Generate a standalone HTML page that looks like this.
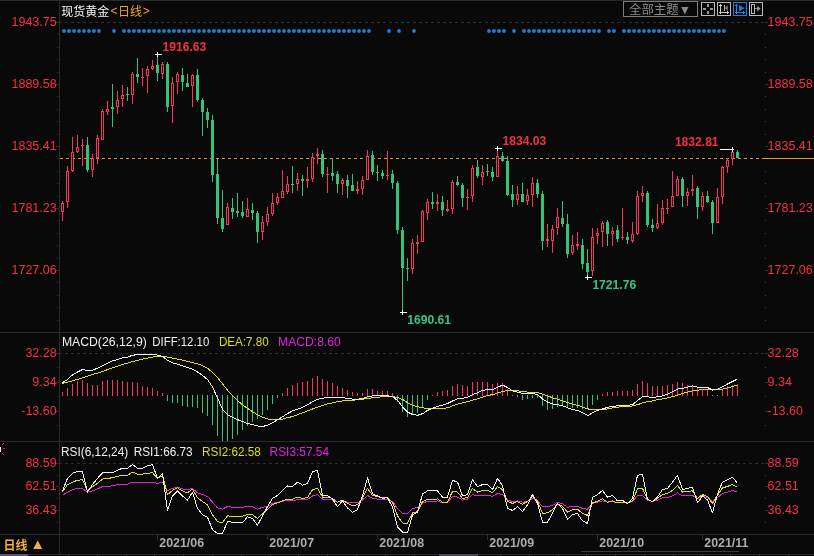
<!DOCTYPE html>
<html lang="zh-CN">
<head>
<meta charset="utf-8">
<title>现货黄金 日线</title>
<style>
html,body{margin:0;padding:0;background:#090909;}
body{width:814px;height:556px;overflow:hidden;position:relative;font-family:"Liberation Sans", "Noto Sans CJK SC", sans-serif;}
</style>
</head>
<body>
<svg width="814" height="556" viewBox="0 0 814 556" style="display:block;position:absolute;left:0;top:0">
<rect x="0" y="0" width="814" height="556" fill="#090909"/>
<g shape-rendering="crispEdges" fill="#2b2b2b">
<rect x="0" y="0" width="814" height="1"/>
<rect x="59" y="0" width="1" height="555"/>
<rect x="0" y="332" width="814" height="1"/>
<rect x="0" y="441" width="814" height="1"/>
<rect x="0" y="534" width="814" height="1"/>
<rect x="0" y="554" width="814" height="1"/>
<rect x="157" y="534" width="1" height="6"/>
<rect x="267" y="534" width="1" height="6"/>
<rect x="377" y="534" width="1" height="6"/>
<rect x="487" y="534" width="1" height="6"/>
<rect x="597" y="534" width="1" height="6"/>
<rect x="702" y="534" width="1" height="6"/>
<rect x="68" y="555" width="1" height="1"/>
<rect x="97" y="555" width="1" height="1"/>
<rect x="126" y="555" width="1" height="1"/>
<rect x="154" y="555" width="1" height="1"/>
<rect x="183" y="555" width="1" height="1"/>
<rect x="212" y="555" width="1" height="1"/>
<rect x="241" y="555" width="1" height="1"/>
<rect x="270" y="555" width="1" height="1"/>
<rect x="298" y="555" width="1" height="1"/>
<rect x="327" y="555" width="1" height="1"/>
<rect x="356" y="555" width="1" height="1"/>
<rect x="385" y="555" width="1" height="1"/>
<rect x="414" y="555" width="1" height="1"/>
<rect x="442" y="555" width="1" height="1"/>
<rect x="471" y="555" width="1" height="1"/>
<rect x="500" y="555" width="1" height="1"/>
<rect x="529" y="555" width="1" height="1"/>
<rect x="558" y="555" width="1" height="1"/>
<rect x="586" y="555" width="1" height="1"/>
<rect x="615" y="555" width="1" height="1"/>
<rect x="644" y="555" width="1" height="1"/>
<rect x="673" y="555" width="1" height="1"/>
<rect x="702" y="555" width="1" height="1"/>
<rect x="730" y="555" width="1" height="1"/>
<rect x="759" y="555" width="1" height="1"/>
<rect x="788" y="555" width="1" height="1"/>
</g>
<g shape-rendering="crispEdges" fill="#212121">
<rect x="57" y="22" width="2" height="1"/>
<rect x="57" y="34" width="2" height="1"/>
<rect x="57" y="47" width="2" height="1"/>
<rect x="57" y="59" width="2" height="1"/>
<rect x="57" y="72" width="2" height="1"/>
<rect x="57" y="84" width="2" height="1"/>
<rect x="57" y="96" width="2" height="1"/>
<rect x="57" y="109" width="2" height="1"/>
<rect x="57" y="121" width="2" height="1"/>
<rect x="57" y="134" width="2" height="1"/>
<rect x="57" y="146" width="2" height="1"/>
<rect x="57" y="158" width="2" height="1"/>
<rect x="57" y="171" width="2" height="1"/>
<rect x="57" y="183" width="2" height="1"/>
<rect x="57" y="196" width="2" height="1"/>
<rect x="57" y="208" width="2" height="1"/>
<rect x="57" y="220" width="2" height="1"/>
<rect x="57" y="233" width="2" height="1"/>
<rect x="57" y="245" width="2" height="1"/>
<rect x="57" y="258" width="2" height="1"/>
<rect x="57" y="270" width="2" height="1"/>
<rect x="57" y="282" width="2" height="1"/>
<rect x="57" y="295" width="2" height="1"/>
<rect x="57" y="307" width="2" height="1"/>
<rect x="57" y="320" width="2" height="1"/>
<rect x="57" y="353" width="2" height="1"/>
<rect x="57" y="367" width="2" height="1"/>
<rect x="57" y="382" width="2" height="1"/>
<rect x="57" y="396" width="2" height="1"/>
<rect x="57" y="411" width="2" height="1"/>
<rect x="57" y="425" width="2" height="1"/>
<rect x="57" y="463" width="2" height="1"/>
<rect x="57" y="475" width="2" height="1"/>
<rect x="57" y="486" width="2" height="1"/>
<rect x="57" y="498" width="2" height="1"/>
<rect x="57" y="510" width="2" height="1"/>
<rect x="57" y="522" width="2" height="1"/>
</g>
<g shape-rendering="crispEdges" fill="#3a3a3a">
<rect x="765" y="22" width="1" height="1"/>
<rect x="765" y="34" width="1" height="1"/>
<rect x="765" y="47" width="1" height="1"/>
<rect x="765" y="59" width="1" height="1"/>
<rect x="765" y="72" width="1" height="1"/>
<rect x="765" y="84" width="1" height="1"/>
<rect x="765" y="96" width="1" height="1"/>
<rect x="765" y="109" width="1" height="1"/>
<rect x="765" y="121" width="1" height="1"/>
<rect x="765" y="134" width="1" height="1"/>
<rect x="765" y="146" width="1" height="1"/>
<rect x="765" y="158" width="1" height="1"/>
<rect x="765" y="171" width="1" height="1"/>
<rect x="765" y="183" width="1" height="1"/>
<rect x="765" y="196" width="1" height="1"/>
<rect x="765" y="208" width="1" height="1"/>
<rect x="765" y="220" width="1" height="1"/>
<rect x="765" y="233" width="1" height="1"/>
<rect x="765" y="245" width="1" height="1"/>
<rect x="765" y="258" width="1" height="1"/>
<rect x="765" y="270" width="1" height="1"/>
<rect x="765" y="282" width="1" height="1"/>
<rect x="765" y="295" width="1" height="1"/>
<rect x="765" y="307" width="1" height="1"/>
<rect x="765" y="320" width="1" height="1"/>
<rect x="765" y="353" width="1" height="1"/>
<rect x="765" y="367" width="1" height="1"/>
<rect x="765" y="382" width="1" height="1"/>
<rect x="765" y="396" width="1" height="1"/>
<rect x="765" y="411" width="1" height="1"/>
<rect x="765" y="425" width="1" height="1"/>
<rect x="765" y="463" width="1" height="1"/>
<rect x="765" y="475" width="1" height="1"/>
<rect x="765" y="486" width="1" height="1"/>
<rect x="765" y="498" width="1" height="1"/>
<rect x="765" y="510" width="1" height="1"/>
<rect x="765" y="522" width="1" height="1"/>
</g>
<g shape-rendering="crispEdges" fill="#303030">
<rect x="56" y="22" width="3" height="1"/>
<rect x="765" y="22" width="3" height="1"/>
<rect x="56" y="84" width="3" height="1"/>
<rect x="765" y="84" width="3" height="1"/>
<rect x="56" y="146" width="3" height="1"/>
<rect x="765" y="146" width="3" height="1"/>
<rect x="56" y="208" width="3" height="1"/>
<rect x="765" y="208" width="3" height="1"/>
<rect x="56" y="270" width="3" height="1"/>
<rect x="765" y="270" width="3" height="1"/>
<rect x="56" y="353" width="3" height="1"/>
<rect x="765" y="353" width="3" height="1"/>
<rect x="56" y="382" width="3" height="1"/>
<rect x="765" y="382" width="3" height="1"/>
<rect x="56" y="411" width="3" height="1"/>
<rect x="765" y="411" width="3" height="1"/>
<rect x="56" y="463" width="3" height="1"/>
<rect x="765" y="463" width="3" height="1"/>
<rect x="56" y="486" width="3" height="1"/>
<rect x="765" y="486" width="3" height="1"/>
<rect x="56" y="510" width="3" height="1"/>
<rect x="765" y="510" width="3" height="1"/>
</g>
<g shape-rendering="crispEdges" stroke="#2d2d2d" stroke-width="1" stroke-dasharray="3 3" fill="none">
<path d="M59 22.5H764"/>
<path d="M59 353.5H764"/>
<path d="M59 463.5H764"/>
</g>
<rect x="0" y="554" width="28" height="2" fill="#55556a" shape-rendering="crispEdges"/>
<rect x="439" y="554" width="39" height="2" fill="#4a4a52" shape-rendering="crispEdges"/>
<rect x="581" y="551" width="158" height="1" fill="#3c3c3c" shape-rendering="crispEdges"/>
<g fill="#1c80d8">
<circle cx="64" cy="31" r="1.9"/>
<circle cx="69" cy="31" r="1.9"/>
<circle cx="74" cy="31" r="1.9"/>
<circle cx="79" cy="31" r="1.9"/>
<circle cx="84" cy="31" r="1.9"/>
<circle cx="89" cy="31" r="1.9"/>
<circle cx="94" cy="31" r="1.9"/>
<circle cx="99" cy="31" r="1.9"/>
<circle cx="114" cy="31" r="1.9"/>
<circle cx="124" cy="31" r="1.9"/>
<circle cx="129" cy="31" r="1.9"/>
<circle cx="134" cy="31" r="1.9"/>
<circle cx="139" cy="31" r="1.9"/>
<circle cx="144" cy="31" r="1.9"/>
<circle cx="149" cy="31" r="1.9"/>
<circle cx="154" cy="31" r="1.9"/>
<circle cx="159" cy="31" r="1.9"/>
<circle cx="164" cy="31" r="1.9"/>
<circle cx="169" cy="31" r="1.9"/>
<circle cx="174" cy="31" r="1.9"/>
<circle cx="179" cy="31" r="1.9"/>
<circle cx="184" cy="31" r="1.9"/>
<circle cx="189" cy="31" r="1.9"/>
<circle cx="194" cy="31" r="1.9"/>
<circle cx="199" cy="31" r="1.9"/>
<circle cx="204" cy="31" r="1.9"/>
<circle cx="209" cy="31" r="1.9"/>
<circle cx="214" cy="31" r="1.9"/>
<circle cx="219" cy="31" r="1.9"/>
<circle cx="224" cy="31" r="1.9"/>
<circle cx="229" cy="31" r="1.9"/>
<circle cx="234" cy="31" r="1.9"/>
<circle cx="239" cy="31" r="1.9"/>
<circle cx="244" cy="31" r="1.9"/>
<circle cx="249" cy="31" r="1.9"/>
<circle cx="254" cy="31" r="1.9"/>
<circle cx="259" cy="31" r="1.9"/>
<circle cx="264" cy="31" r="1.9"/>
<circle cx="269" cy="31" r="1.9"/>
<circle cx="274" cy="31" r="1.9"/>
<circle cx="279" cy="31" r="1.9"/>
<circle cx="284" cy="31" r="1.9"/>
<circle cx="289" cy="31" r="1.9"/>
<circle cx="294" cy="31" r="1.9"/>
<circle cx="299" cy="31" r="1.9"/>
<circle cx="304" cy="31" r="1.9"/>
<circle cx="309" cy="31" r="1.9"/>
<circle cx="314" cy="31" r="1.9"/>
<circle cx="319" cy="31" r="1.9"/>
<circle cx="324" cy="31" r="1.9"/>
<circle cx="329" cy="31" r="1.9"/>
<circle cx="334" cy="31" r="1.9"/>
<circle cx="339" cy="31" r="1.9"/>
<circle cx="344" cy="31" r="1.9"/>
<circle cx="349" cy="31" r="1.9"/>
<circle cx="354" cy="31" r="1.9"/>
<circle cx="359" cy="31" r="1.9"/>
<circle cx="364" cy="31" r="1.9"/>
<circle cx="369" cy="31" r="1.9"/>
<circle cx="389" cy="31" r="1.9"/>
<circle cx="399" cy="31" r="1.9"/>
<circle cx="414" cy="31" r="1.9"/>
<circle cx="489" cy="31" r="1.9"/>
<circle cx="494" cy="31" r="1.9"/>
<circle cx="499" cy="31" r="1.9"/>
<circle cx="504" cy="31" r="1.9"/>
<circle cx="514" cy="31" r="1.9"/>
<circle cx="524" cy="31" r="1.9"/>
<circle cx="529" cy="31" r="1.9"/>
<circle cx="534" cy="31" r="1.9"/>
<circle cx="539" cy="31" r="1.9"/>
<circle cx="544" cy="31" r="1.9"/>
<circle cx="549" cy="31" r="1.9"/>
<circle cx="554" cy="31" r="1.9"/>
<circle cx="559" cy="31" r="1.9"/>
<circle cx="564" cy="31" r="1.9"/>
<circle cx="569" cy="31" r="1.9"/>
<circle cx="574" cy="31" r="1.9"/>
<circle cx="579" cy="31" r="1.9"/>
<circle cx="584" cy="31" r="1.9"/>
<circle cx="589" cy="31" r="1.9"/>
<circle cx="594" cy="31" r="1.9"/>
<circle cx="599" cy="31" r="1.9"/>
<circle cx="609" cy="31" r="1.9"/>
<circle cx="614" cy="31" r="1.9"/>
<circle cx="624" cy="31" r="1.9"/>
<circle cx="629" cy="31" r="1.9"/>
<circle cx="634" cy="31" r="1.9"/>
<circle cx="639" cy="31" r="1.9"/>
<circle cx="644" cy="31" r="1.9"/>
<circle cx="649" cy="31" r="1.9"/>
<circle cx="654" cy="31" r="1.9"/>
<circle cx="659" cy="31" r="1.9"/>
<circle cx="664" cy="31" r="1.9"/>
<circle cx="669" cy="31" r="1.9"/>
<circle cx="674" cy="31" r="1.9"/>
<circle cx="679" cy="31" r="1.9"/>
<circle cx="684" cy="31" r="1.9"/>
<circle cx="689" cy="31" r="1.9"/>
<circle cx="694" cy="31" r="1.9"/>
<circle cx="699" cy="31" r="1.9"/>
<circle cx="704" cy="31" r="1.9"/>
<circle cx="709" cy="31" r="1.9"/>
<circle cx="714" cy="31" r="1.9"/>
<circle cx="719" cy="31" r="1.9"/>
<circle cx="724" cy="31" r="1.9"/>
</g>
<g shape-rendering="crispEdges">
<path d="M60 158.5H759" stroke="#e8932e" stroke-width="1" stroke-dasharray="3 3" fill="none"/>
<rect x="762" y="158" width="52" height="1" fill="#e8932e"/>
</g>
<g shape-rendering="crispEdges">
<rect x="62" y="201" width="1" height="2" fill="#f6365b"/>
<rect x="62" y="212" width="1" height="9" fill="#f6365b"/>
<rect x="61" y="203" width="3" height="9" fill="#f6365b"/>
<rect x="62" y="204" width="1" height="7" fill="#090909"/>
<rect x="67" y="166" width="1" height="5" fill="#f6365b"/>
<rect x="67" y="202" width="1" height="6" fill="#f6365b"/>
<rect x="66" y="171" width="3" height="31" fill="#f6365b"/>
<rect x="67" y="172" width="1" height="29" fill="#090909"/>
<rect x="72" y="137" width="1" height="15" fill="#f6365b"/>
<rect x="72" y="171" width="1" height="1" fill="#f6365b"/>
<rect x="71" y="152" width="3" height="19" fill="#f6365b"/>
<rect x="72" y="153" width="1" height="17" fill="#090909"/>
<rect x="77" y="135" width="1" height="12" fill="#f6365b"/>
<rect x="77" y="152" width="1" height="1" fill="#f6365b"/>
<rect x="76" y="147" width="3" height="5" fill="#f6365b"/>
<rect x="77" y="148" width="1" height="3" fill="#090909"/>
<rect x="82" y="139" width="1" height="6" fill="#f6365b"/>
<rect x="82" y="146" width="1" height="20" fill="#f6365b"/>
<rect x="81" y="145" width="3" height="1" fill="#f6365b"/>
<rect x="87" y="137" width="1" height="35" fill="#32c47a"/>
<rect x="86" y="145" width="3" height="25" fill="#32c47a"/>
<rect x="92" y="154" width="1" height="4" fill="#f6365b"/>
<rect x="92" y="170" width="1" height="7" fill="#f6365b"/>
<rect x="91" y="158" width="3" height="12" fill="#f6365b"/>
<rect x="92" y="159" width="1" height="10" fill="#090909"/>
<rect x="97" y="135" width="1" height="3" fill="#f6365b"/>
<rect x="97" y="158" width="1" height="6" fill="#f6365b"/>
<rect x="96" y="138" width="3" height="20" fill="#f6365b"/>
<rect x="97" y="139" width="1" height="18" fill="#090909"/>
<rect x="102" y="109" width="1" height="2" fill="#f6365b"/>
<rect x="101" y="111" width="3" height="29" fill="#f6365b"/>
<rect x="102" y="112" width="1" height="27" fill="#090909"/>
<rect x="107" y="101" width="1" height="8" fill="#f6365b"/>
<rect x="107" y="112" width="1" height="3" fill="#f6365b"/>
<rect x="106" y="109" width="3" height="3" fill="#f6365b"/>
<rect x="107" y="110" width="1" height="1" fill="#090909"/>
<rect x="112" y="84" width="1" height="43" fill="#32c47a"/>
<rect x="111" y="107" width="3" height="2" fill="#32c47a"/>
<rect x="117" y="91" width="1" height="9" fill="#f6365b"/>
<rect x="117" y="107" width="1" height="7" fill="#f6365b"/>
<rect x="116" y="100" width="3" height="7" fill="#f6365b"/>
<rect x="117" y="101" width="1" height="5" fill="#090909"/>
<rect x="122" y="85" width="1" height="10" fill="#f6365b"/>
<rect x="122" y="99" width="1" height="8" fill="#f6365b"/>
<rect x="121" y="95" width="3" height="4" fill="#f6365b"/>
<rect x="122" y="96" width="1" height="2" fill="#090909"/>
<rect x="127" y="87" width="1" height="14" fill="#32c47a"/>
<rect x="126" y="94" width="3" height="1" fill="#32c47a"/>
<rect x="132" y="72" width="1" height="2" fill="#f6365b"/>
<rect x="132" y="95" width="1" height="9" fill="#f6365b"/>
<rect x="131" y="74" width="3" height="21" fill="#f6365b"/>
<rect x="132" y="75" width="1" height="19" fill="#090909"/>
<rect x="137" y="58" width="1" height="25" fill="#32c47a"/>
<rect x="136" y="74" width="3" height="3" fill="#32c47a"/>
<rect x="142" y="68" width="1" height="9" fill="#f6365b"/>
<rect x="142" y="78" width="1" height="8" fill="#f6365b"/>
<rect x="141" y="77" width="3" height="1" fill="#f6365b"/>
<rect x="147" y="66" width="1" height="3" fill="#f6365b"/>
<rect x="147" y="76" width="1" height="17" fill="#f6365b"/>
<rect x="146" y="69" width="3" height="7" fill="#f6365b"/>
<rect x="147" y="70" width="1" height="5" fill="#090909"/>
<rect x="152" y="60" width="1" height="6" fill="#f6365b"/>
<rect x="152" y="69" width="1" height="1" fill="#f6365b"/>
<rect x="151" y="66" width="3" height="3" fill="#f6365b"/>
<rect x="152" y="67" width="1" height="1" fill="#090909"/>
<rect x="157" y="54" width="1" height="27" fill="#32c47a"/>
<rect x="156" y="65" width="3" height="8" fill="#32c47a"/>
<rect x="162" y="62" width="1" height="2" fill="#f6365b"/>
<rect x="162" y="74" width="1" height="5" fill="#f6365b"/>
<rect x="161" y="64" width="3" height="10" fill="#f6365b"/>
<rect x="162" y="65" width="1" height="8" fill="#090909"/>
<rect x="167" y="62" width="1" height="50" fill="#32c47a"/>
<rect x="166" y="64" width="3" height="43" fill="#32c47a"/>
<rect x="172" y="77" width="1" height="6" fill="#f6365b"/>
<rect x="172" y="106" width="1" height="17" fill="#f6365b"/>
<rect x="171" y="83" width="3" height="23" fill="#f6365b"/>
<rect x="172" y="84" width="1" height="21" fill="#090909"/>
<rect x="177" y="72" width="1" height="2" fill="#f6365b"/>
<rect x="177" y="82" width="1" height="12" fill="#f6365b"/>
<rect x="176" y="74" width="3" height="8" fill="#f6365b"/>
<rect x="177" y="75" width="1" height="6" fill="#090909"/>
<rect x="182" y="68" width="1" height="23" fill="#32c47a"/>
<rect x="181" y="75" width="3" height="7" fill="#32c47a"/>
<rect x="187" y="74" width="1" height="13" fill="#32c47a"/>
<rect x="186" y="83" width="3" height="4" fill="#32c47a"/>
<rect x="192" y="74" width="1" height="1" fill="#f6365b"/>
<rect x="192" y="86" width="1" height="21" fill="#f6365b"/>
<rect x="191" y="75" width="3" height="11" fill="#f6365b"/>
<rect x="192" y="76" width="1" height="9" fill="#090909"/>
<rect x="197" y="69" width="1" height="33" fill="#32c47a"/>
<rect x="196" y="75" width="3" height="25" fill="#32c47a"/>
<rect x="202" y="98" width="1" height="38" fill="#32c47a"/>
<rect x="201" y="100" width="3" height="12" fill="#32c47a"/>
<rect x="207" y="108" width="1" height="20" fill="#32c47a"/>
<rect x="206" y="112" width="3" height="8" fill="#32c47a"/>
<rect x="212" y="115" width="1" height="67" fill="#32c47a"/>
<rect x="211" y="120" width="3" height="55" fill="#32c47a"/>
<rect x="217" y="159" width="1" height="65" fill="#32c47a"/>
<rect x="216" y="174" width="3" height="44" fill="#32c47a"/>
<rect x="222" y="190" width="1" height="42" fill="#32c47a"/>
<rect x="221" y="218" width="3" height="11" fill="#32c47a"/>
<rect x="227" y="203" width="1" height="4" fill="#f6365b"/>
<rect x="226" y="207" width="3" height="18" fill="#f6365b"/>
<rect x="227" y="208" width="1" height="16" fill="#090909"/>
<rect x="232" y="198" width="1" height="21" fill="#32c47a"/>
<rect x="231" y="208" width="3" height="4" fill="#32c47a"/>
<rect x="237" y="193" width="1" height="24" fill="#32c47a"/>
<rect x="236" y="211" width="3" height="2" fill="#32c47a"/>
<rect x="242" y="201" width="1" height="17" fill="#32c47a"/>
<rect x="241" y="212" width="3" height="4" fill="#32c47a"/>
<rect x="247" y="198" width="1" height="11" fill="#f6365b"/>
<rect x="246" y="209" width="3" height="8" fill="#f6365b"/>
<rect x="247" y="210" width="1" height="6" fill="#090909"/>
<rect x="252" y="203" width="1" height="17" fill="#32c47a"/>
<rect x="251" y="210" width="3" height="3" fill="#32c47a"/>
<rect x="257" y="211" width="1" height="32" fill="#32c47a"/>
<rect x="256" y="213" width="3" height="19" fill="#32c47a"/>
<rect x="262" y="216" width="1" height="6" fill="#f6365b"/>
<rect x="262" y="232" width="1" height="8" fill="#f6365b"/>
<rect x="261" y="222" width="3" height="10" fill="#f6365b"/>
<rect x="262" y="223" width="1" height="8" fill="#090909"/>
<rect x="267" y="207" width="1" height="7" fill="#f6365b"/>
<rect x="267" y="222" width="1" height="4" fill="#f6365b"/>
<rect x="266" y="214" width="3" height="8" fill="#f6365b"/>
<rect x="267" y="215" width="1" height="6" fill="#090909"/>
<rect x="272" y="193" width="1" height="10" fill="#f6365b"/>
<rect x="272" y="214" width="1" height="2" fill="#f6365b"/>
<rect x="271" y="203" width="3" height="11" fill="#f6365b"/>
<rect x="272" y="204" width="1" height="9" fill="#090909"/>
<rect x="277" y="193" width="1" height="4" fill="#f6365b"/>
<rect x="277" y="203" width="1" height="2" fill="#f6365b"/>
<rect x="276" y="197" width="3" height="6" fill="#f6365b"/>
<rect x="277" y="198" width="1" height="4" fill="#090909"/>
<rect x="282" y="170" width="1" height="21" fill="#f6365b"/>
<rect x="281" y="191" width="3" height="7" fill="#f6365b"/>
<rect x="282" y="192" width="1" height="5" fill="#090909"/>
<rect x="287" y="176" width="1" height="8" fill="#f6365b"/>
<rect x="287" y="192" width="1" height="2" fill="#f6365b"/>
<rect x="286" y="184" width="3" height="8" fill="#f6365b"/>
<rect x="287" y="185" width="1" height="6" fill="#090909"/>
<rect x="292" y="166" width="1" height="27" fill="#32c47a"/>
<rect x="291" y="184" width="3" height="1" fill="#32c47a"/>
<rect x="297" y="173" width="1" height="6" fill="#f6365b"/>
<rect x="297" y="184" width="1" height="7" fill="#f6365b"/>
<rect x="296" y="179" width="3" height="5" fill="#f6365b"/>
<rect x="297" y="180" width="1" height="3" fill="#090909"/>
<rect x="302" y="175" width="1" height="21" fill="#32c47a"/>
<rect x="301" y="179" width="3" height="2" fill="#32c47a"/>
<rect x="307" y="167" width="1" height="12" fill="#f6365b"/>
<rect x="307" y="181" width="1" height="7" fill="#f6365b"/>
<rect x="306" y="179" width="3" height="2" fill="#f6365b"/>
<rect x="312" y="153" width="1" height="4" fill="#f6365b"/>
<rect x="312" y="179" width="1" height="3" fill="#f6365b"/>
<rect x="311" y="157" width="3" height="22" fill="#f6365b"/>
<rect x="312" y="158" width="1" height="20" fill="#090909"/>
<rect x="317" y="148" width="1" height="6" fill="#f6365b"/>
<rect x="317" y="156" width="1" height="8" fill="#f6365b"/>
<rect x="316" y="154" width="3" height="2" fill="#f6365b"/>
<rect x="322" y="150" width="1" height="27" fill="#32c47a"/>
<rect x="321" y="154" width="3" height="20" fill="#32c47a"/>
<rect x="327" y="167" width="1" height="7" fill="#f6365b"/>
<rect x="327" y="175" width="1" height="18" fill="#f6365b"/>
<rect x="326" y="174" width="3" height="1" fill="#f6365b"/>
<rect x="332" y="158" width="1" height="23" fill="#32c47a"/>
<rect x="331" y="173" width="3" height="3" fill="#32c47a"/>
<rect x="337" y="171" width="1" height="22" fill="#32c47a"/>
<rect x="336" y="174" width="3" height="10" fill="#32c47a"/>
<rect x="342" y="178" width="1" height="2" fill="#f6365b"/>
<rect x="342" y="184" width="1" height="11" fill="#f6365b"/>
<rect x="341" y="180" width="3" height="4" fill="#f6365b"/>
<rect x="342" y="181" width="1" height="2" fill="#090909"/>
<rect x="347" y="175" width="1" height="23" fill="#32c47a"/>
<rect x="346" y="180" width="3" height="6" fill="#32c47a"/>
<rect x="352" y="174" width="1" height="17" fill="#32c47a"/>
<rect x="351" y="185" width="3" height="6" fill="#32c47a"/>
<rect x="357" y="181" width="1" height="8" fill="#f6365b"/>
<rect x="357" y="191" width="1" height="3" fill="#f6365b"/>
<rect x="356" y="189" width="3" height="2" fill="#f6365b"/>
<rect x="362" y="176" width="1" height="4" fill="#f6365b"/>
<rect x="362" y="189" width="1" height="6" fill="#f6365b"/>
<rect x="361" y="180" width="3" height="9" fill="#f6365b"/>
<rect x="362" y="181" width="1" height="7" fill="#090909"/>
<rect x="367" y="150" width="1" height="6" fill="#f6365b"/>
<rect x="366" y="156" width="3" height="24" fill="#f6365b"/>
<rect x="367" y="157" width="1" height="22" fill="#090909"/>
<rect x="372" y="151" width="1" height="24" fill="#32c47a"/>
<rect x="371" y="155" width="3" height="17" fill="#32c47a"/>
<rect x="377" y="165" width="1" height="16" fill="#32c47a"/>
<rect x="376" y="172" width="3" height="1" fill="#32c47a"/>
<rect x="382" y="170" width="1" height="9" fill="#32c47a"/>
<rect x="381" y="173" width="3" height="3" fill="#32c47a"/>
<rect x="387" y="151" width="1" height="24" fill="#f6365b"/>
<rect x="387" y="176" width="1" height="4" fill="#f6365b"/>
<rect x="386" y="175" width="3" height="1" fill="#f6365b"/>
<rect x="392" y="170" width="1" height="19" fill="#32c47a"/>
<rect x="391" y="174" width="3" height="9" fill="#32c47a"/>
<rect x="397" y="181" width="1" height="53" fill="#32c47a"/>
<rect x="396" y="183" width="3" height="47" fill="#32c47a"/>
<rect x="402" y="227" width="1" height="85" fill="#32c47a"/>
<rect x="401" y="230" width="3" height="38" fill="#32c47a"/>
<rect x="407" y="258" width="1" height="23" fill="#32c47a"/>
<rect x="406" y="268" width="3" height="1" fill="#32c47a"/>
<rect x="412" y="239" width="1" height="4" fill="#f6365b"/>
<rect x="412" y="269" width="1" height="5" fill="#f6365b"/>
<rect x="411" y="243" width="3" height="26" fill="#f6365b"/>
<rect x="412" y="244" width="1" height="24" fill="#090909"/>
<rect x="417" y="235" width="1" height="7" fill="#f6365b"/>
<rect x="417" y="244" width="1" height="10" fill="#f6365b"/>
<rect x="416" y="242" width="3" height="2" fill="#f6365b"/>
<rect x="422" y="210" width="1" height="1" fill="#f6365b"/>
<rect x="421" y="211" width="3" height="31" fill="#f6365b"/>
<rect x="422" y="212" width="1" height="29" fill="#090909"/>
<rect x="427" y="199" width="1" height="3" fill="#f6365b"/>
<rect x="427" y="213" width="1" height="7" fill="#f6365b"/>
<rect x="426" y="202" width="3" height="11" fill="#f6365b"/>
<rect x="427" y="203" width="1" height="9" fill="#090909"/>
<rect x="432" y="192" width="1" height="17" fill="#32c47a"/>
<rect x="431" y="202" width="3" height="2" fill="#32c47a"/>
<rect x="437" y="194" width="1" height="8" fill="#f6365b"/>
<rect x="437" y="204" width="1" height="7" fill="#f6365b"/>
<rect x="436" y="202" width="3" height="2" fill="#f6365b"/>
<rect x="442" y="196" width="1" height="20" fill="#32c47a"/>
<rect x="441" y="202" width="3" height="8" fill="#32c47a"/>
<rect x="447" y="200" width="1" height="9" fill="#f6365b"/>
<rect x="447" y="211" width="1" height="1" fill="#f6365b"/>
<rect x="446" y="209" width="3" height="2" fill="#f6365b"/>
<rect x="452" y="180" width="1" height="2" fill="#f6365b"/>
<rect x="452" y="209" width="1" height="5" fill="#f6365b"/>
<rect x="451" y="182" width="3" height="27" fill="#f6365b"/>
<rect x="452" y="183" width="1" height="25" fill="#090909"/>
<rect x="457" y="176" width="1" height="10" fill="#32c47a"/>
<rect x="456" y="182" width="3" height="3" fill="#32c47a"/>
<rect x="462" y="183" width="1" height="24" fill="#32c47a"/>
<rect x="461" y="185" width="3" height="13" fill="#32c47a"/>
<rect x="467" y="189" width="1" height="8" fill="#f6365b"/>
<rect x="467" y="198" width="1" height="12" fill="#f6365b"/>
<rect x="466" y="197" width="3" height="1" fill="#f6365b"/>
<rect x="472" y="165" width="1" height="3" fill="#f6365b"/>
<rect x="472" y="196" width="1" height="6" fill="#f6365b"/>
<rect x="471" y="168" width="3" height="28" fill="#f6365b"/>
<rect x="472" y="169" width="1" height="26" fill="#090909"/>
<rect x="477" y="160" width="1" height="18" fill="#32c47a"/>
<rect x="476" y="167" width="3" height="9" fill="#32c47a"/>
<rect x="482" y="165" width="1" height="7" fill="#f6365b"/>
<rect x="482" y="177" width="1" height="8" fill="#f6365b"/>
<rect x="481" y="172" width="3" height="5" fill="#f6365b"/>
<rect x="482" y="173" width="1" height="3" fill="#090909"/>
<rect x="487" y="164" width="1" height="12" fill="#32c47a"/>
<rect x="486" y="171" width="3" height="1" fill="#32c47a"/>
<rect x="492" y="167" width="1" height="14" fill="#32c47a"/>
<rect x="491" y="172" width="3" height="5" fill="#32c47a"/>
<rect x="497" y="148" width="1" height="8" fill="#f6365b"/>
<rect x="496" y="156" width="3" height="21" fill="#f6365b"/>
<rect x="497" y="157" width="1" height="19" fill="#090909"/>
<rect x="502" y="152" width="1" height="10" fill="#32c47a"/>
<rect x="501" y="156" width="3" height="5" fill="#32c47a"/>
<rect x="507" y="156" width="1" height="40" fill="#32c47a"/>
<rect x="506" y="161" width="3" height="34" fill="#32c47a"/>
<rect x="512" y="185" width="1" height="22" fill="#32c47a"/>
<rect x="511" y="194" width="3" height="6" fill="#32c47a"/>
<rect x="517" y="186" width="1" height="8" fill="#f6365b"/>
<rect x="517" y="200" width="1" height="5" fill="#f6365b"/>
<rect x="516" y="194" width="3" height="6" fill="#f6365b"/>
<rect x="517" y="195" width="1" height="4" fill="#090909"/>
<rect x="522" y="183" width="1" height="19" fill="#32c47a"/>
<rect x="521" y="194" width="3" height="8" fill="#32c47a"/>
<rect x="527" y="189" width="1" height="6" fill="#f6365b"/>
<rect x="527" y="201" width="1" height="4" fill="#f6365b"/>
<rect x="526" y="195" width="3" height="6" fill="#f6365b"/>
<rect x="527" y="196" width="1" height="4" fill="#090909"/>
<rect x="532" y="177" width="1" height="6" fill="#f6365b"/>
<rect x="532" y="195" width="1" height="12" fill="#f6365b"/>
<rect x="531" y="183" width="3" height="12" fill="#f6365b"/>
<rect x="532" y="184" width="1" height="10" fill="#090909"/>
<rect x="537" y="179" width="1" height="19" fill="#32c47a"/>
<rect x="536" y="183" width="3" height="11" fill="#32c47a"/>
<rect x="542" y="191" width="1" height="59" fill="#32c47a"/>
<rect x="541" y="194" width="3" height="47" fill="#32c47a"/>
<rect x="547" y="224" width="1" height="15" fill="#f6365b"/>
<rect x="547" y="241" width="1" height="6" fill="#f6365b"/>
<rect x="546" y="239" width="3" height="2" fill="#f6365b"/>
<rect x="552" y="225" width="1" height="4" fill="#f6365b"/>
<rect x="552" y="241" width="1" height="12" fill="#f6365b"/>
<rect x="551" y="229" width="3" height="12" fill="#f6365b"/>
<rect x="552" y="230" width="1" height="10" fill="#090909"/>
<rect x="557" y="208" width="1" height="9" fill="#f6365b"/>
<rect x="557" y="228" width="1" height="7" fill="#f6365b"/>
<rect x="556" y="217" width="3" height="11" fill="#f6365b"/>
<rect x="557" y="218" width="1" height="9" fill="#090909"/>
<rect x="562" y="201" width="1" height="26" fill="#32c47a"/>
<rect x="561" y="218" width="3" height="6" fill="#32c47a"/>
<rect x="567" y="214" width="1" height="44" fill="#32c47a"/>
<rect x="566" y="224" width="3" height="30" fill="#32c47a"/>
<rect x="572" y="235" width="1" height="10" fill="#f6365b"/>
<rect x="572" y="253" width="1" height="2" fill="#f6365b"/>
<rect x="571" y="245" width="3" height="8" fill="#f6365b"/>
<rect x="572" y="246" width="1" height="6" fill="#090909"/>
<rect x="577" y="232" width="1" height="12" fill="#f6365b"/>
<rect x="577" y="246" width="1" height="4" fill="#f6365b"/>
<rect x="576" y="244" width="3" height="2" fill="#f6365b"/>
<rect x="582" y="239" width="1" height="30" fill="#32c47a"/>
<rect x="581" y="245" width="3" height="19" fill="#32c47a"/>
<rect x="587" y="249" width="1" height="28" fill="#32c47a"/>
<rect x="586" y="263" width="3" height="9" fill="#32c47a"/>
<rect x="592" y="228" width="1" height="9" fill="#f6365b"/>
<rect x="592" y="271" width="1" height="5" fill="#f6365b"/>
<rect x="591" y="237" width="3" height="34" fill="#f6365b"/>
<rect x="592" y="238" width="1" height="32" fill="#090909"/>
<rect x="597" y="228" width="1" height="5" fill="#f6365b"/>
<rect x="597" y="236" width="1" height="8" fill="#f6365b"/>
<rect x="596" y="233" width="3" height="3" fill="#f6365b"/>
<rect x="597" y="234" width="1" height="1" fill="#090909"/>
<rect x="602" y="221" width="1" height="2" fill="#f6365b"/>
<rect x="602" y="232" width="1" height="15" fill="#f6365b"/>
<rect x="601" y="223" width="3" height="9" fill="#f6365b"/>
<rect x="602" y="224" width="1" height="7" fill="#090909"/>
<rect x="607" y="220" width="1" height="26" fill="#32c47a"/>
<rect x="606" y="222" width="3" height="12" fill="#32c47a"/>
<rect x="612" y="227" width="1" height="4" fill="#f6365b"/>
<rect x="612" y="234" width="1" height="12" fill="#f6365b"/>
<rect x="611" y="231" width="3" height="3" fill="#f6365b"/>
<rect x="612" y="232" width="1" height="1" fill="#090909"/>
<rect x="617" y="225" width="1" height="17" fill="#32c47a"/>
<rect x="616" y="230" width="3" height="9" fill="#32c47a"/>
<rect x="622" y="208" width="1" height="29" fill="#f6365b"/>
<rect x="622" y="238" width="1" height="2" fill="#f6365b"/>
<rect x="621" y="237" width="3" height="1" fill="#f6365b"/>
<rect x="627" y="232" width="1" height="12" fill="#32c47a"/>
<rect x="626" y="237" width="3" height="3" fill="#32c47a"/>
<rect x="632" y="222" width="1" height="12" fill="#f6365b"/>
<rect x="632" y="241" width="1" height="2" fill="#f6365b"/>
<rect x="631" y="234" width="3" height="7" fill="#f6365b"/>
<rect x="632" y="235" width="1" height="5" fill="#090909"/>
<rect x="637" y="191" width="1" height="5" fill="#f6365b"/>
<rect x="637" y="234" width="1" height="1" fill="#f6365b"/>
<rect x="636" y="196" width="3" height="38" fill="#f6365b"/>
<rect x="637" y="197" width="1" height="36" fill="#090909"/>
<rect x="642" y="186" width="1" height="7" fill="#f6365b"/>
<rect x="642" y="196" width="1" height="6" fill="#f6365b"/>
<rect x="641" y="193" width="3" height="3" fill="#f6365b"/>
<rect x="642" y="194" width="1" height="1" fill="#090909"/>
<rect x="647" y="191" width="1" height="36" fill="#32c47a"/>
<rect x="646" y="193" width="3" height="32" fill="#32c47a"/>
<rect x="652" y="219" width="1" height="13" fill="#32c47a"/>
<rect x="651" y="225" width="3" height="3" fill="#32c47a"/>
<rect x="657" y="204" width="1" height="19" fill="#f6365b"/>
<rect x="657" y="228" width="1" height="1" fill="#f6365b"/>
<rect x="656" y="223" width="3" height="5" fill="#f6365b"/>
<rect x="657" y="224" width="1" height="3" fill="#090909"/>
<rect x="662" y="200" width="1" height="8" fill="#f6365b"/>
<rect x="662" y="223" width="1" height="2" fill="#f6365b"/>
<rect x="661" y="208" width="3" height="15" fill="#f6365b"/>
<rect x="662" y="209" width="1" height="13" fill="#090909"/>
<rect x="667" y="199" width="1" height="9" fill="#f6365b"/>
<rect x="667" y="209" width="1" height="5" fill="#f6365b"/>
<rect x="666" y="208" width="3" height="1" fill="#f6365b"/>
<rect x="672" y="171" width="1" height="25" fill="#f6365b"/>
<rect x="671" y="196" width="3" height="11" fill="#f6365b"/>
<rect x="672" y="197" width="1" height="9" fill="#090909"/>
<rect x="677" y="176" width="1" height="3" fill="#f6365b"/>
<rect x="676" y="179" width="3" height="17" fill="#f6365b"/>
<rect x="677" y="180" width="1" height="15" fill="#090909"/>
<rect x="682" y="177" width="1" height="30" fill="#32c47a"/>
<rect x="681" y="179" width="3" height="17" fill="#32c47a"/>
<rect x="687" y="188" width="1" height="4" fill="#f6365b"/>
<rect x="687" y="196" width="1" height="10" fill="#f6365b"/>
<rect x="686" y="192" width="3" height="4" fill="#f6365b"/>
<rect x="687" y="193" width="1" height="2" fill="#090909"/>
<rect x="692" y="175" width="1" height="14" fill="#f6365b"/>
<rect x="692" y="191" width="1" height="5" fill="#f6365b"/>
<rect x="691" y="189" width="3" height="2" fill="#f6365b"/>
<rect x="697" y="186" width="1" height="33" fill="#32c47a"/>
<rect x="696" y="188" width="3" height="19" fill="#32c47a"/>
<rect x="702" y="192" width="1" height="4" fill="#f6365b"/>
<rect x="702" y="207" width="1" height="4" fill="#f6365b"/>
<rect x="701" y="196" width="3" height="11" fill="#f6365b"/>
<rect x="702" y="197" width="1" height="9" fill="#090909"/>
<rect x="707" y="191" width="1" height="12" fill="#32c47a"/>
<rect x="706" y="196" width="3" height="6" fill="#32c47a"/>
<rect x="712" y="200" width="1" height="34" fill="#32c47a"/>
<rect x="711" y="202" width="3" height="21" fill="#32c47a"/>
<rect x="717" y="188" width="1" height="9" fill="#f6365b"/>
<rect x="716" y="197" width="3" height="26" fill="#f6365b"/>
<rect x="717" y="198" width="1" height="24" fill="#090909"/>
<rect x="722" y="166" width="1" height="1" fill="#f6365b"/>
<rect x="722" y="197" width="1" height="7" fill="#f6365b"/>
<rect x="721" y="167" width="3" height="30" fill="#f6365b"/>
<rect x="722" y="168" width="1" height="28" fill="#090909"/>
<rect x="727" y="158" width="1" height="2" fill="#f6365b"/>
<rect x="727" y="167" width="1" height="6" fill="#f6365b"/>
<rect x="726" y="160" width="3" height="7" fill="#f6365b"/>
<rect x="727" y="161" width="1" height="5" fill="#090909"/>
<rect x="732" y="147" width="1" height="5" fill="#f6365b"/>
<rect x="732" y="159" width="1" height="6" fill="#f6365b"/>
<rect x="731" y="152" width="3" height="7" fill="#f6365b"/>
<rect x="732" y="153" width="1" height="5" fill="#090909"/>
<rect x="737" y="150" width="1" height="8" fill="#32c47a"/>
<rect x="736" y="152" width="3" height="6" fill="#32c47a"/>
</g>
<g shape-rendering="crispEdges" fill="#ffffff">
<rect x="155" y="54" width="7" height="1"/><rect x="157" y="52" width="1" height="5"/>
<rect x="495" y="148" width="7" height="1"/><rect x="497" y="146" width="1" height="5"/>
<rect x="720" y="149" width="14" height="1"/><rect x="732" y="147" width="1" height="5"/>
<rect x="400" y="312" width="7" height="1"/><rect x="402" y="310" width="1" height="5"/>
<rect x="585" y="277" width="7" height="1"/><rect x="587" y="275" width="1" height="5"/>
</g>
<g shape-rendering="crispEdges">
<rect x="62" y="392" width="1" height="4" fill="#f6365b"/>
<rect x="67" y="388" width="1" height="8" fill="#f6365b"/>
<rect x="72" y="384" width="1" height="12" fill="#f6365b"/>
<rect x="77" y="381" width="1" height="15" fill="#f6365b"/>
<rect x="82" y="380" width="1" height="16" fill="#f6365b"/>
<rect x="87" y="383" width="1" height="13" fill="#f6365b"/>
<rect x="92" y="385" width="1" height="11" fill="#f6365b"/>
<rect x="97" y="385" width="1" height="11" fill="#f6365b"/>
<rect x="102" y="381" width="1" height="15" fill="#f6365b"/>
<rect x="107" y="380" width="1" height="16" fill="#f6365b"/>
<rect x="112" y="380" width="1" height="16" fill="#f6365b"/>
<rect x="117" y="380" width="1" height="16" fill="#f6365b"/>
<rect x="122" y="381" width="1" height="15" fill="#f6365b"/>
<rect x="127" y="382" width="1" height="14" fill="#f6365b"/>
<rect x="132" y="382" width="1" height="14" fill="#f6365b"/>
<rect x="137" y="383" width="1" height="13" fill="#f6365b"/>
<rect x="142" y="386" width="1" height="10" fill="#f6365b"/>
<rect x="147" y="387" width="1" height="9" fill="#f6365b"/>
<rect x="152" y="388" width="1" height="8" fill="#f6365b"/>
<rect x="157" y="391" width="1" height="5" fill="#f6365b"/>
<rect x="162" y="393" width="1" height="3" fill="#f6365b"/>
<rect x="167" y="395" width="1" height="6" fill="#32c47a"/>
<rect x="172" y="395" width="1" height="8" fill="#32c47a"/>
<rect x="177" y="395" width="1" height="8" fill="#32c47a"/>
<rect x="182" y="395" width="1" height="11" fill="#32c47a"/>
<rect x="187" y="395" width="1" height="12" fill="#32c47a"/>
<rect x="192" y="395" width="1" height="12" fill="#32c47a"/>
<rect x="197" y="395" width="1" height="13" fill="#32c47a"/>
<rect x="202" y="395" width="1" height="18" fill="#32c47a"/>
<rect x="207" y="395" width="1" height="21" fill="#32c47a"/>
<rect x="212" y="395" width="1" height="30" fill="#32c47a"/>
<rect x="217" y="395" width="1" height="41" fill="#32c47a"/>
<rect x="222" y="395" width="1" height="46" fill="#32c47a"/>
<rect x="227" y="395" width="1" height="46" fill="#32c47a"/>
<rect x="232" y="395" width="1" height="44" fill="#32c47a"/>
<rect x="237" y="395" width="1" height="40" fill="#32c47a"/>
<rect x="242" y="395" width="1" height="35" fill="#32c47a"/>
<rect x="247" y="395" width="1" height="31" fill="#32c47a"/>
<rect x="252" y="395" width="1" height="27" fill="#32c47a"/>
<rect x="257" y="395" width="1" height="24" fill="#32c47a"/>
<rect x="262" y="395" width="1" height="20" fill="#32c47a"/>
<rect x="267" y="395" width="1" height="15" fill="#32c47a"/>
<rect x="272" y="395" width="1" height="9" fill="#32c47a"/>
<rect x="277" y="395" width="1" height="3" fill="#32c47a"/>
<rect x="282" y="393" width="1" height="3" fill="#f6365b"/>
<rect x="287" y="388" width="1" height="8" fill="#f6365b"/>
<rect x="292" y="385" width="1" height="11" fill="#f6365b"/>
<rect x="297" y="383" width="1" height="13" fill="#f6365b"/>
<rect x="302" y="382" width="1" height="14" fill="#f6365b"/>
<rect x="307" y="381" width="1" height="15" fill="#f6365b"/>
<rect x="312" y="378" width="1" height="18" fill="#f6365b"/>
<rect x="317" y="376" width="1" height="20" fill="#f6365b"/>
<rect x="322" y="379" width="1" height="17" fill="#f6365b"/>
<rect x="327" y="381" width="1" height="15" fill="#f6365b"/>
<rect x="332" y="383" width="1" height="13" fill="#f6365b"/>
<rect x="337" y="386" width="1" height="10" fill="#f6365b"/>
<rect x="342" y="388" width="1" height="8" fill="#f6365b"/>
<rect x="347" y="390" width="1" height="6" fill="#f6365b"/>
<rect x="352" y="392" width="1" height="4" fill="#f6365b"/>
<rect x="357" y="393" width="1" height="3" fill="#f6365b"/>
<rect x="362" y="393" width="1" height="3" fill="#f6365b"/>
<rect x="367" y="389" width="1" height="7" fill="#f6365b"/>
<rect x="372" y="389" width="1" height="7" fill="#f6365b"/>
<rect x="377" y="391" width="1" height="5" fill="#f6365b"/>
<rect x="382" y="391" width="1" height="5" fill="#f6365b"/>
<rect x="387" y="391" width="1" height="5" fill="#f6365b"/>
<rect x="392" y="393" width="1" height="3" fill="#f6365b"/>
<rect x="397" y="395" width="1" height="7" fill="#32c47a"/>
<rect x="402" y="395" width="1" height="17" fill="#32c47a"/>
<rect x="407" y="395" width="1" height="22" fill="#32c47a"/>
<rect x="412" y="395" width="1" height="19" fill="#32c47a"/>
<rect x="417" y="395" width="1" height="18" fill="#32c47a"/>
<rect x="422" y="395" width="1" height="12" fill="#32c47a"/>
<rect x="427" y="395" width="1" height="5" fill="#32c47a"/>
<rect x="432" y="395" width="1" height="1" fill="#f6365b"/>
<rect x="437" y="392" width="1" height="4" fill="#f6365b"/>
<rect x="442" y="391" width="1" height="5" fill="#f6365b"/>
<rect x="447" y="390" width="1" height="6" fill="#f6365b"/>
<rect x="452" y="386" width="1" height="10" fill="#f6365b"/>
<rect x="457" y="384" width="1" height="12" fill="#f6365b"/>
<rect x="462" y="385" width="1" height="11" fill="#f6365b"/>
<rect x="467" y="386" width="1" height="10" fill="#f6365b"/>
<rect x="472" y="382" width="1" height="14" fill="#f6365b"/>
<rect x="477" y="382" width="1" height="14" fill="#f6365b"/>
<rect x="482" y="382" width="1" height="14" fill="#f6365b"/>
<rect x="487" y="382" width="1" height="14" fill="#f6365b"/>
<rect x="492" y="384" width="1" height="12" fill="#f6365b"/>
<rect x="497" y="383" width="1" height="13" fill="#f6365b"/>
<rect x="502" y="383" width="1" height="13" fill="#f6365b"/>
<rect x="507" y="389" width="1" height="7" fill="#f6365b"/>
<rect x="512" y="395" width="1" height="1" fill="#f6365b"/>
<rect x="517" y="395" width="1" height="2" fill="#32c47a"/>
<rect x="522" y="395" width="1" height="5" fill="#32c47a"/>
<rect x="527" y="395" width="1" height="4" fill="#32c47a"/>
<rect x="532" y="395" width="1" height="3" fill="#32c47a"/>
<rect x="537" y="395" width="1" height="3" fill="#32c47a"/>
<rect x="542" y="395" width="1" height="11" fill="#32c47a"/>
<rect x="547" y="395" width="1" height="15" fill="#32c47a"/>
<rect x="552" y="395" width="1" height="14" fill="#32c47a"/>
<rect x="557" y="395" width="1" height="12" fill="#32c47a"/>
<rect x="562" y="395" width="1" height="11" fill="#32c47a"/>
<rect x="567" y="395" width="1" height="13" fill="#32c47a"/>
<rect x="572" y="395" width="1" height="13" fill="#32c47a"/>
<rect x="577" y="395" width="1" height="13" fill="#32c47a"/>
<rect x="582" y="395" width="1" height="14" fill="#32c47a"/>
<rect x="587" y="395" width="1" height="14" fill="#32c47a"/>
<rect x="592" y="395" width="1" height="10" fill="#32c47a"/>
<rect x="597" y="395" width="1" height="5" fill="#32c47a"/>
<rect x="602" y="394" width="1" height="2" fill="#f6365b"/>
<rect x="607" y="392" width="1" height="4" fill="#f6365b"/>
<rect x="612" y="392" width="1" height="4" fill="#f6365b"/>
<rect x="617" y="391" width="1" height="5" fill="#f6365b"/>
<rect x="622" y="391" width="1" height="5" fill="#f6365b"/>
<rect x="627" y="391" width="1" height="5" fill="#f6365b"/>
<rect x="632" y="390" width="1" height="6" fill="#f6365b"/>
<rect x="637" y="384" width="1" height="12" fill="#f6365b"/>
<rect x="642" y="381" width="1" height="15" fill="#f6365b"/>
<rect x="647" y="383" width="1" height="13" fill="#f6365b"/>
<rect x="652" y="386" width="1" height="10" fill="#f6365b"/>
<rect x="657" y="386" width="1" height="10" fill="#f6365b"/>
<rect x="662" y="386" width="1" height="10" fill="#f6365b"/>
<rect x="667" y="385" width="1" height="11" fill="#f6365b"/>
<rect x="672" y="384" width="1" height="12" fill="#f6365b"/>
<rect x="677" y="382" width="1" height="14" fill="#f6365b"/>
<rect x="682" y="383" width="1" height="13" fill="#f6365b"/>
<rect x="687" y="385" width="1" height="11" fill="#f6365b"/>
<rect x="692" y="385" width="1" height="11" fill="#f6365b"/>
<rect x="697" y="388" width="1" height="8" fill="#f6365b"/>
<rect x="702" y="389" width="1" height="7" fill="#f6365b"/>
<rect x="707" y="390" width="1" height="6" fill="#f6365b"/>
<rect x="712" y="395" width="1" height="1" fill="#32c47a"/>
<rect x="717" y="395" width="1" height="1" fill="#32c47a"/>
<rect x="722" y="389" width="1" height="7" fill="#f6365b"/>
<rect x="727" y="386" width="1" height="10" fill="#f6365b"/>
<rect x="732" y="385" width="1" height="11" fill="#f6365b"/>
<rect x="737" y="384" width="1" height="12" fill="#f6365b"/>
</g>
<polyline points="62.3,383.4 72.3,380.9 82.3,377.9 92.3,374.6 102.4,371.6 112.4,367.8 122.4,364.6 132.4,361.6 142.5,359.1 152.5,357.1 157.5,356.3 162.5,356.3 167.5,357.1 177.6,359.1 187.6,361.3 197.6,363.8 202.6,365.8 207.6,368.3 212.6,372.6 217.7,377.9 222.7,384.1 227.7,390.4 232.7,395.9 237.7,400.9 242.5,404.7 247.5,408.4 252.5,411.7 257.5,414.7 262.6,417.2 267.6,419.0 272.6,419.7 277.6,419.7 282.6,419.0 287.6,417.7 292.6,416.5 297.6,414.7 302.7,412.7 307.7,410.9 312.7,408.9 317.7,407.2 322.7,405.4 327.7,403.9 332.7,402.9 337.7,401.7 342.8,400.9 347.8,400.2 352.8,400.2 357.8,399.7 362.8,399.2 367.8,398.4 372.8,397.7 377.8,397.2 382.9,396.7 387.9,396.4 392.9,396.4 397.9,397.7 402.9,399.7 407.9,402.9 412.9,405.4 417.9,406.7 423.0,407.9 427.5,408.4 432.5,408.4 437.5,408.4 442.5,408.2 447.6,407.9 452.6,405.7 457.6,404.2 462.6,402.9 467.6,401.7 472.6,400.2 477.6,398.9 482.6,397.2 487.7,395.4 492.7,394.7 497.7,392.9 502.7,391.4 507.7,390.4 512.7,390.4 517.7,390.9 522.7,391.4 527.8,392.2 532.8,392.2 537.8,392.7 542.8,394.2 547.8,395.9 552.8,397.9 557.8,399.2 562.8,400.9 567.9,402.7 572.9,404.2 577.9,405.4 582.9,407.2 587.9,408.9 592.9,409.7 597.9,409.7 602.9,409.7 608.0,408.9 612.5,407.9 617.5,407.2 622.5,406.7 627.5,406.7 632.6,405.9 637.6,404.7 642.6,402.9 647.6,401.7 652.6,400.9 657.6,399.7 662.6,398.9 667.6,397.9 672.7,396.7 677.7,395.2 682.7,393.4 687.7,392.2 692.7,390.9 697.7,390.1 702.7,389.6 707.7,389.1 712.8,389.6 717.8,389.6 722.8,389.1 727.8,387.9 732.8,386.4 737.1,385.1" fill="none" stroke="#dede10" stroke-width="1.00" stroke-linejoin="round" shape-rendering="crispEdges"/>
<polyline points="62.3,382.9 67.3,379.6 72.3,375.1 77.3,372.1 82.3,369.6 87.3,370.3 92.3,370.3 97.4,368.3 102.4,365.8 107.4,363.3 112.4,360.8 117.4,359.6 122.4,357.8 127.4,357.1 132.4,355.3 137.5,354.6 142.5,354.6 147.5,354.6 152.5,354.6 157.5,355.1 162.5,356.3 167.5,360.3 172.5,362.8 177.6,364.1 182.6,365.8 187.6,367.6 192.6,369.1 197.6,372.1 202.6,375.4 207.6,379.6 212.6,387.1 217.7,398.4 222.7,409.7 227.7,414.7 232.7,417.2 237.7,419.7 242.5,421.5 247.5,423.5 252.5,424.7 257.5,426.0 262.6,426.5 267.6,425.2 272.6,422.7 277.6,419.7 282.6,416.7 287.6,413.5 292.6,410.9 297.6,409.2 302.7,407.2 307.7,404.7 312.7,401.7 317.7,399.2 322.7,398.4 327.7,397.2 332.7,397.2 337.7,397.2 342.8,397.7 347.8,398.4 352.8,399.2 357.8,399.2 362.8,398.4 367.8,396.7 372.8,395.9 377.8,395.4 382.9,395.4 387.9,395.9 392.9,396.7 397.9,400.9 402.9,407.2 407.9,412.2 412.9,414.7 417.9,415.2 423.0,413.5 427.5,410.4 432.5,408.4 437.5,406.4 442.5,405.2 447.6,403.4 452.6,400.9 457.6,398.9 462.6,398.4 467.6,397.2 472.6,394.7 477.6,392.7 482.6,390.4 487.7,389.6 492.7,389.6 497.7,387.1 502.7,385.1 507.7,387.6 512.7,390.9 517.7,392.2 522.7,393.4 527.8,393.9 532.8,393.4 537.8,394.7 542.8,399.2 547.8,402.2 552.8,403.9 557.8,404.7 562.8,405.9 567.9,407.9 572.9,409.7 577.9,410.4 582.9,413.0 587.9,415.5 592.9,412.7 597.9,410.2 602.9,408.9 608.0,407.2 612.5,406.4 617.5,405.9 622.5,405.4 627.5,405.4 632.6,404.7 637.6,400.4 642.6,396.7 647.6,396.7 652.6,397.7 657.6,396.7 662.6,395.9 667.6,394.2 672.7,391.6 677.7,389.1 682.7,388.4 687.7,387.1 692.7,385.9 697.7,387.1 702.7,387.1 707.7,387.6 712.8,390.1 717.8,389.1 722.8,386.6 727.8,383.9 732.8,381.4 737.1,379.1" fill="none" stroke="#f0f0f0" stroke-width="1.00" stroke-linejoin="round" shape-rendering="crispEdges"/>
<polyline points="62.5,495.4 67.5,492.1 72.5,489.6 77.5,488.4 82.5,488.4 87.5,492.1 92.5,490.9 97.5,488.9 102.5,486.6 107.5,486.4 112.5,485.9 117.5,484.6 122.5,484.1 127.5,484.1 132.5,482.1 137.5,482.9 142.5,482.9 147.5,482.1 152.5,482.1 157.5,483.4 162.5,482.1 167.5,490.9 172.5,488.4 177.5,487.1 182.5,488.9 187.5,489.6 192.5,488.4 197.5,492.9 202.5,494.6 207.5,496.4 212.5,502.2 217.5,507.9 222.5,509.2 227.5,506.4 232.5,507.2 237.5,507.2 242.5,507.2 247.5,506.4 252.5,506.7 257.5,509.2 262.5,507.2 267.5,506.7 272.5,503.4 277.5,502.2 282.5,501.4 287.5,500.4 292.5,500.9 297.5,499.6 302.5,499.6 307.5,499.6 312.5,495.9 317.5,494.6 322.5,499.1 327.5,499.6 332.5,500.1 337.5,502.2 342.5,500.9 347.5,502.2 352.5,502.9 357.5,502.9 362.5,500.1 367.5,495.4 372.5,498.4 377.5,499.1 382.5,499.6 387.5,499.6 392.5,501.6 397.5,508.4 402.5,513.4 407.5,513.4 412.5,508.4 417.5,507.7 422.5,502.9 427.5,501.4 432.5,501.6 437.5,500.9 442.5,502.9 447.5,502.2 452.5,496.6 457.5,497.1 462.5,500.1 467.5,499.1 472.5,494.6 477.5,495.9 482.5,495.4 487.5,495.4 492.5,496.4 497.5,493.4 502.5,494.6 507.5,500.1 512.5,501.6 517.5,500.9 522.5,502.2 527.5,501.4 532.5,498.4 537.5,500.9 542.5,506.7 547.5,506.7 552.5,505.4 557.5,502.2 562.5,503.9 567.5,507.2 572.5,506.4 577.5,506.4 582.5,508.4 587.5,509.2 592.5,503.4 597.5,502.2 602.5,500.9 607.5,502.2 612.5,501.6 617.5,502.7 622.5,502.2 627.5,502.9 632.5,501.6 637.5,495.4 642.5,495.4 647.5,500.1 652.5,501.4 657.5,500.1 662.5,497.9 667.5,497.6 672.5,495.9 677.5,492.9 682.5,495.9 687.5,495.4 692.5,495.4 697.5,498.4 702.5,496.6 707.5,497.6 712.5,501.6 717.5,497.6 722.5,493.4 727.5,492.1 732.5,490.4 737.5,492.1" fill="none" stroke="#e022e0" stroke-width="1.00" stroke-linejoin="round" shape-rendering="crispEdges"/>
<polyline points="62.5,492.1 67.5,484.6 72.5,482.1 77.5,480.3 82.5,479.6 87.5,490.9 92.5,486.6 97.5,483.4 102.5,479.1 107.5,478.3 112.5,477.8 117.5,476.3 122.5,475.3 127.5,475.3 132.5,472.1 137.5,474.1 142.5,474.1 147.5,473.3 152.5,472.6 157.5,478.3 162.5,475.8 167.5,494.6 172.5,490.4 177.5,487.9 182.5,490.9 187.5,492.9 192.5,489.1 197.5,497.6 202.5,501.6 207.5,504.7 212.5,514.7 217.5,521.7 222.5,522.7 227.5,515.9 232.5,516.4 237.5,516.4 242.5,516.4 247.5,514.2 252.5,514.7 257.5,518.4 262.5,513.9 267.5,509.2 272.5,504.7 277.5,502.9 282.5,500.9 287.5,499.1 292.5,499.1 297.5,497.1 302.5,498.4 307.5,497.6 312.5,489.6 317.5,488.4 322.5,497.1 327.5,497.1 332.5,498.4 337.5,502.2 342.5,500.1 347.5,503.4 352.5,505.9 357.5,504.7 362.5,498.4 367.5,488.4 372.5,495.4 377.5,496.6 382.5,497.9 387.5,497.6 392.5,502.2 397.5,515.9 402.5,523.0 407.5,523.0 412.5,512.9 417.5,511.7 422.5,501.6 427.5,499.1 432.5,499.6 437.5,498.9 442.5,502.2 447.5,502.2 452.5,491.4 457.5,492.1 462.5,498.4 467.5,497.6 472.5,488.4 477.5,492.1 482.5,490.4 487.5,490.1 492.5,492.9 497.5,486.6 502.5,489.6 507.5,501.4 512.5,503.4 517.5,501.6 522.5,504.2 527.5,501.4 532.5,496.6 537.5,500.9 542.5,513.4 547.5,512.9 552.5,509.7 557.5,503.9 562.5,506.4 567.5,512.2 572.5,509.7 577.5,509.2 582.5,513.4 587.5,515.4 592.5,502.9 597.5,501.4 602.5,498.9 607.5,502.2 612.5,500.9 617.5,502.9 622.5,502.2 627.5,503.4 632.5,500.9 637.5,488.9 642.5,488.4 647.5,499.6 652.5,501.4 657.5,498.4 662.5,494.6 667.5,493.4 672.5,490.4 677.5,485.4 682.5,492.1 687.5,491.4 692.5,490.9 697.5,498.4 702.5,494.6 707.5,496.6 712.5,503.4 717.5,495.1 722.5,487.9 727.5,486.4 732.5,484.6 737.5,487.1" fill="none" stroke="#dede10" stroke-width="1.00" stroke-linejoin="round" shape-rendering="crispEdges"/>
<polyline points="62.5,490.9 67.5,478.3 72.5,473.3 77.5,471.6 82.5,471.6 87.5,492.1 92.5,484.6 97.5,478.3 102.5,472.8 107.5,472.8 112.5,472.8 117.5,470.1 122.5,468.3 127.5,468.3 132.5,464.6 137.5,468.3 142.5,468.3 147.5,465.8 152.5,464.6 157.5,478.3 162.5,473.3 167.5,510.9 172.5,495.9 177.5,490.9 182.5,495.9 187.5,500.1 192.5,492.1 197.5,508.4 202.5,514.7 207.5,517.2 212.5,529.7 217.5,533.5 222.5,533.5 227.5,521.7 232.5,522.2 237.5,522.2 242.5,522.7 247.5,516.7 252.5,518.4 257.5,525.2 262.5,515.9 267.5,506.7 272.5,498.4 277.5,495.4 282.5,490.4 287.5,485.9 292.5,486.6 297.5,482.1 302.5,485.1 307.5,483.4 312.5,471.6 317.5,470.3 322.5,495.4 327.5,495.4 332.5,499.1 337.5,506.7 342.5,500.9 347.5,507.9 352.5,512.2 357.5,509.7 362.5,495.9 367.5,477.8 372.5,493.9 377.5,495.9 382.5,498.4 387.5,497.6 392.5,507.2 397.5,527.2 402.5,532.2 407.5,532.7 412.5,514.7 417.5,512.2 422.5,494.1 427.5,490.9 432.5,490.9 437.5,490.9 442.5,497.1 447.5,497.1 452.5,480.3 457.5,482.1 462.5,495.9 467.5,494.6 472.5,479.6 477.5,486.6 482.5,484.6 487.5,484.6 492.5,489.6 497.5,478.3 502.5,485.9 507.5,508.4 512.5,510.4 517.5,506.7 522.5,511.4 527.5,504.7 532.5,494.6 537.5,503.4 542.5,522.2 547.5,522.2 552.5,513.4 557.5,503.4 562.5,508.4 567.5,519.2 572.5,514.7 577.5,513.4 582.5,520.9 587.5,523.5 592.5,497.1 597.5,494.6 602.5,490.4 607.5,497.1 612.5,495.4 617.5,500.9 622.5,500.4 627.5,503.4 632.5,498.4 637.5,475.3 642.5,474.1 647.5,499.6 652.5,501.4 657.5,497.1 662.5,489.6 667.5,488.4 672.5,482.1 677.5,475.3 682.5,489.6 687.5,488.4 692.5,487.1 697.5,502.9 702.5,495.9 707.5,500.1 712.5,512.7 717.5,493.9 722.5,482.1 727.5,479.6 732.5,477.1 737.5,483.4" fill="none" stroke="#f0f0f0" stroke-width="1.00" stroke-linejoin="round" shape-rendering="crispEdges"/>
<g shape-rendering="crispEdges" fill="none" stroke-width="1">
<rect x="623.5" y="1.5" width="74" height="15" stroke="#7c7c7c"/>
<rect x="701.5" y="2.5" width="13" height="13" stroke="#b8b8b8"/>
<rect x="717.5" y="2.5" width="13" height="13" stroke="#b8b8b8"/>
<rect x="733.5" y="2.5" width="13" height="13" stroke="#2280da"/>
<rect x="749.5" y="2.5" width="13" height="13" stroke="#b8b8b8"/>
</g>
<g shape-rendering="crispEdges" fill="#9a9a9a">
<rect x="707" y="4" width="2" height="3"/><rect x="707" y="11" width="2" height="3"/>
<rect x="703" y="8" width="3" height="2"/><rect x="710" y="8" width="3" height="2"/>
</g>
<g shape-rendering="crispEdges" fill="#cfcfcf">
<rect x="720" y="4" width="1" height="10"/><rect x="719" y="5" width="3" height="1"/>
<rect x="719" y="12" width="10" height="1"/><rect x="727" y="11" width="1" height="3"/>
<rect x="724" y="5" width="1" height="6" fill="#b4b4b4"/>
</g>
<path d="M727.6 5.3 L725 8 L727.6 10.7 Z" fill="#8e8e8e"/>
<g shape-rendering="crispEdges" fill="#2a86e0">
<rect x="736" y="4" width="1" height="10"/><rect x="735" y="5" width="3" height="1"/>
<rect x="735" y="12" width="10" height="1"/><rect x="743" y="11" width="1" height="3"/>
</g>
<path d="M739 5 L744.6 8.3 L739 11.6 Z" fill="#1f7ad4"/>
<rect x="751.5" y="4.5" width="3" height="9" fill="none" stroke="#b8b8b8" stroke-width="1" shape-rendering="crispEdges"/>
<rect x="755" y="8" width="4" height="1" fill="#8c8c8c" shape-rendering="crispEdges"/>
<path d="M757.2 6 L760.6 8.6 L757.2 11.4 Z" fill="#9c9c9c"/>
<g shape-rendering="crispEdges">
<rect x="0" y="447" width="1" height="5" fill="#ffffff"/>
<rect x="3" y="443" width="1" height="1" fill="#ff2020"/><rect x="2" y="444" width="1" height="1" fill="#ff2020"/>
<rect x="3" y="448" width="2" height="1" fill="#ff2020"/>
<rect x="2" y="453" width="1" height="1" fill="#ff2020"/><rect x="3" y="454" width="1" height="1" fill="#ff2020"/>
</g>
<g font-family='"Liberation Sans", "Noto Sans CJK SC", sans-serif'>
<text x="61.2" y="15.6" font-size="12px" fill="#f4f4f4">现货黄金</text>
<text x="110.6" y="15.4" font-size="12px" fill="#f0a030">&lt;</text>
<text x="118" y="15.6" font-size="12px" fill="#f0a030">日线</text>
<text x="142.8" y="15.4" font-size="12px" fill="#f0a030">&gt;</text>
<text x="660.0" y="13.6" fill="#8c8c8c" font-size="12.4px" text-anchor="middle">全部主题▼</text>
<text x="56.7" y="26.1" fill="#f62f44" font-size="12.5px" text-anchor="end">1943.75</text>
<text x="767.6" y="26.1" fill="#f62f44" font-size="12.5px" text-anchor="start">1943.75</text>
<text x="56.7" y="88.1" fill="#f62f44" font-size="12.5px" text-anchor="end">1889.58</text>
<text x="767.6" y="88.1" fill="#f62f44" font-size="12.5px" text-anchor="start">1889.58</text>
<text x="56.7" y="150.1" fill="#f62f44" font-size="12.5px" text-anchor="end">1835.41</text>
<text x="767.6" y="150.1" fill="#f62f44" font-size="12.5px" text-anchor="start">1835.41</text>
<text x="56.7" y="212.1" fill="#f62f44" font-size="12.5px" text-anchor="end">1781.23</text>
<text x="767.6" y="212.1" fill="#f62f44" font-size="12.5px" text-anchor="start">1781.23</text>
<text x="56.7" y="274.1" fill="#f62f44" font-size="12.5px" text-anchor="end">1727.06</text>
<text x="767.6" y="274.1" fill="#f62f44" font-size="12.5px" text-anchor="start">1727.06</text>
<text x="56.7" y="357.0" fill="#f62f44" font-size="12.5px" text-anchor="end">32.28</text>
<text x="767.5" y="357.0" fill="#f62f44" font-size="12.5px" text-anchor="start">32.28</text>
<text x="56.7" y="386.1" fill="#f62f44" font-size="12.5px" text-anchor="end">9.34</text>
<text x="767.5" y="386.1" fill="#f62f44" font-size="12.5px" text-anchor="start">9.34</text>
<text x="56.7" y="415.0" fill="#f62f44" font-size="12.5px" text-anchor="end">-13.60</text>
<text x="767.5" y="415.0" fill="#f62f44" font-size="12.5px" text-anchor="start">-13.60</text>
<text x="56.7" y="467.1" fill="#f62f44" font-size="12.5px" text-anchor="end">88.59</text>
<text x="767.5" y="467.1" fill="#f62f44" font-size="12.5px" text-anchor="start">88.59</text>
<text x="56.7" y="490.2" fill="#f62f44" font-size="12.5px" text-anchor="end">62.51</text>
<text x="767.5" y="490.2" fill="#f62f44" font-size="12.5px" text-anchor="start">62.51</text>
<text x="56.7" y="514.0" fill="#f62f44" font-size="12.5px" text-anchor="end">36.43</text>
<text x="767.5" y="514.0" fill="#f62f44" font-size="12.5px" text-anchor="start">36.43</text>
<text x="162.5" y="50.8" fill="#f62f44" font-size="12.1px" font-weight="bold" text-anchor="start">1916.63</text>
<text x="502.6" y="144.6" fill="#f62f44" font-size="12.1px" font-weight="bold" text-anchor="start">1834.03</text>
<text x="718.6" y="145.6" fill="#f62f44" font-size="12.1px" font-weight="bold" text-anchor="end">1832.81</text>
<text x="407.3" y="323.9" fill="#33c686" font-size="12.1px" font-weight="bold" text-anchor="start">1690.61</text>
<text x="592.4" y="289.0" fill="#33c686" font-size="12.1px" font-weight="bold" text-anchor="start">1721.76</text>
<text x="61.9" y="346.0" fill="#f0f0f0" font-size="12px" text-anchor="start" textLength="84.9" lengthAdjust="spacingAndGlyphs">MACD(26,12,9)</text>
<text x="152.3" y="346.0" fill="#f0f0f0" font-size="12px" text-anchor="start" textLength="57" lengthAdjust="spacingAndGlyphs">DIFF:12.10</text>
<text x="218.9" y="346.0" fill="#dede10" font-size="12px" text-anchor="start" textLength="49.9" lengthAdjust="spacingAndGlyphs">DEA:7.80</text>
<text x="278.1" y="346.0" fill="#e022e0" font-size="12px" text-anchor="start" textLength="62.7" lengthAdjust="spacingAndGlyphs">MACD:8.60</text>
<text x="61.0" y="456.0" fill="#f0f0f0" font-size="12px" text-anchor="start" textLength="67.2" lengthAdjust="spacingAndGlyphs">RSI(6,12,24)</text>
<text x="133.7" y="456.0" fill="#f0f0f0" font-size="12px" text-anchor="start" textLength="58.9" lengthAdjust="spacingAndGlyphs">RSI1:66.73</text>
<text x="202.1" y="456.0" fill="#dede10" font-size="12px" text-anchor="start" textLength="58.7" lengthAdjust="spacingAndGlyphs">RSI2:62.58</text>
<text x="269.6" y="456.0" fill="#e022e0" font-size="12px" text-anchor="start" textLength="59.4" lengthAdjust="spacingAndGlyphs">RSI3:57.54</text>
<text x="3.5" y="549.8" fill="#f2b040" font-size="12px" font-weight="bold" text-anchor="start">日线</text>
<path d="M37.7 540.5 L42.2 549 L33.2 549 Z" fill="#f2b040"/>
<text x="159.3" y="547.3" fill="#a9adb2" font-size="12.4px" font-weight="bold" text-anchor="start">2021/06</text>
<text x="269.3" y="547.3" fill="#a9adb2" font-size="12.4px" font-weight="bold" text-anchor="start">2021/07</text>
<text x="379.3" y="547.3" fill="#a9adb2" font-size="12.4px" font-weight="bold" text-anchor="start">2021/08</text>
<text x="489.3" y="547.3" fill="#a9adb2" font-size="12.4px" font-weight="bold" text-anchor="start">2021/09</text>
<text x="599.3" y="547.3" fill="#a9adb2" font-size="12.4px" font-weight="bold" text-anchor="start">2021/10</text>
<text x="704.3" y="547.3" fill="#a9adb2" font-size="12.4px" font-weight="bold" text-anchor="start">2021/11</text>
</g>
</svg>
</body>
</html>
